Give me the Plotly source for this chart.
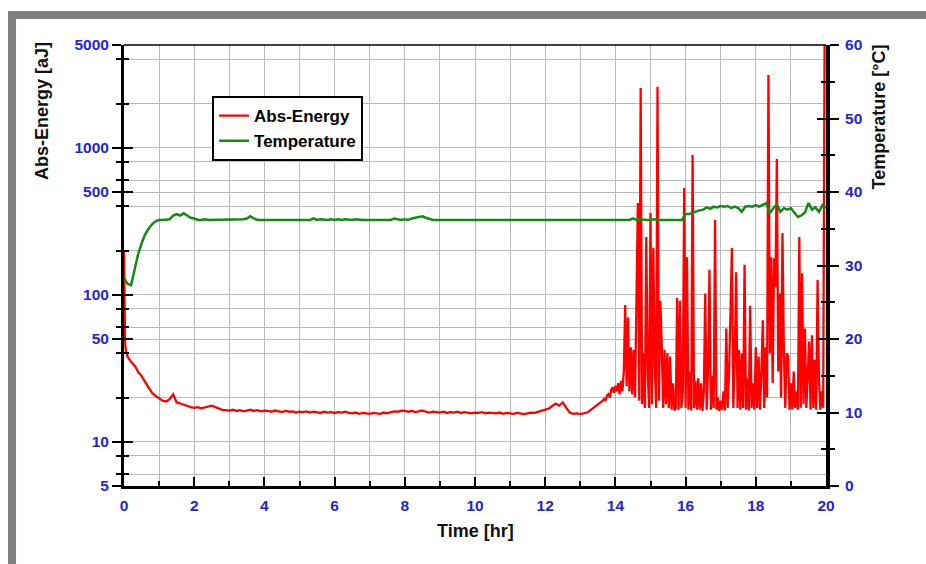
import numpy as np
import plotly.graph_objects as go

# ---------------- data ----------------
# Abs-Energy [aJ]: very first samples (hr)
energy_start_time = [0.0, 0.01, 0.02, 0.03, 0.05]
energy_start_aJ = [200, 110, 75, 48, 42]

# Abs-Energy, quiet period, sampled every 0.1 hr starting at 0.1 hr
energy_quiet_start, energy_quiet_step = 0.1, 0.1
energy_quiet_aJ = [
    38, 35, 33, 30, 28, 25.5, 23.5, 21.5, 20.5, 19.8,
    19.0, 18.8, 19.5, 21.0, 18.5, 18.2, 17.8, 17.6, 17.2, 17.0,
    17.2, 16.9, 17.1, 17.3, 17.6, 17.2, 16.8, 16.5, 16.4, 16.3,
    16.5, 16.2, 16.4, 16.1, 16.3, 16.5, 16.2, 16.4, 16.1, 16.3,
    16.2, 16.0, 16.3, 16.1, 15.9, 16.2, 16.0, 16.1, 15.8, 16.0,
    15.9, 16.1, 15.8, 16.0, 15.9, 15.7, 16.0, 15.8, 15.9, 15.7,
    15.9, 15.8, 16.0, 15.7, 15.6, 15.8, 15.5, 15.7, 15.6, 15.5,
    15.7, 15.6, 15.5, 15.8, 15.6, 15.9, 16.1, 16.0, 16.3, 16.2,
    16.0, 16.2, 15.9, 16.1, 16.3, 16.0, 15.8, 16.0, 15.9, 15.8,
    16.0, 15.7, 15.9, 15.8, 16.0, 15.7, 15.9, 15.8, 15.6, 15.8,
    15.7, 15.9, 15.6, 15.8, 15.7, 15.6, 15.8, 15.5, 15.7, 15.6,
    15.5, 15.7, 15.6, 15.4, 15.6, 15.8, 15.7, 16.0, 16.3, 16.6,
    16.8, 17.5, 18.2, 17.6, 18.5, 17.0, 15.8, 15.5, 15.6, 15.4,
    15.6, 15.8, 16.5, 17.2, 17.8,
]

# Abs-Energy, burst period, sampled every 0.04 hr starting at 13.6 hr
energy_burst_start, energy_burst_step = 13.6, 0.04
energy_burst_aJ = [
    18.5, 19.0, 19.5, 19.2, 20.5, 21.0, 20.0, 22.5, 23.5, 21.5,
    24.0, 22.0, 25.0, 21.0, 26.0, 22.0, 30.0, 85, 24, 70,
    22, 44, 21, 42, 20, 113, 421, 19, 2550, 18,
    40, 17, 247, 30, 17, 360, 18, 208, 35, 17,
    2600, 19, 91, 46, 17, 42, 18, 40, 17, 38,
    16.5, 25, 16.3, 17, 95, 16.5, 91, 17, 22, 532,
    17, 180, 16.5, 30, 16.3, 893, 17, 26, 16.5, 27,
    16.5, 25, 16.2, 22, 102, 16.5, 30, 148, 16.5, 28,
    17, 323, 16.5, 20, 16.2, 19, 16.5, 22, 16.3, 59,
    17, 30, 88, 208, 17, 35, 142, 17, 42, 16.5,
    40, 17, 160, 16.5, 27, 16.3, 84, 17, 25, 16.5,
    44, 17, 38, 16.5, 30, 67, 17, 44, 20, 3125,
    40, 180, 25, 177, 113, 838, 30, 102, 20, 263,
    40, 17, 40, 38, 16.5, 25, 16.5, 30, 17, 22,
    16.5, 247, 17, 140, 18, 59, 17, 30, 48, 16.5,
    53, 17, 36, 16.5, 126, 26, 16.5, 22, 17, 5500,
    8000,
]

# Temperature [°C], sampled every 0.1 hr starting at 0 hr
temp_start, temp_step = 0.0, 0.1
temperature_C = [
    28.3, 27.5, 27.3, 29.5, 31.5, 33.0, 34.2, 35.0, 35.6, 36.0,
    36.2, 36.2, 36.2, 36.3, 36.8, 37.0, 36.8, 37.1, 36.8, 36.5,
    36.4, 36.2, 36.2, 36.3, 36.2, 36.2, 36.3, 36.2, 36.2, 36.2,
    36.2, 36.3, 36.2, 36.2, 36.3, 36.4, 36.7, 36.4, 36.2, 36.2,
    36.2, 36.3, 36.2, 36.2, 36.3, 36.2, 36.2, 36.3, 36.2, 36.3,
    36.2, 36.3, 36.2, 36.2, 36.4, 36.2, 36.3, 36.2, 36.2, 36.3,
    36.2, 36.3, 36.2, 36.3, 36.2, 36.2, 36.3, 36.2, 36.2, 36.2,
    36.2, 36.3, 36.2, 36.2, 36.3, 36.2, 36.2, 36.4, 36.3, 36.2,
    36.3, 36.2, 36.4, 36.5, 36.6, 36.7, 36.5, 36.3, 36.2, 36.2,
    36.2, 36.3, 36.2, 36.2, 36.3, 36.2, 36.2, 36.3, 36.2, 36.2,
    36.3, 36.2, 36.2, 36.2, 36.3, 36.2, 36.2, 36.2, 36.3, 36.2,
    36.2, 36.2, 36.3, 36.2, 36.2, 36.2, 36.3, 36.2, 36.2, 36.2,
    36.2, 36.3, 36.2, 36.2, 36.2, 36.3, 36.2, 36.2, 36.2, 36.2,
    36.2, 36.2, 36.3, 36.2, 36.2, 36.2, 36.2, 36.3, 36.2, 36.2,
    36.2, 36.2, 36.3, 36.2, 36.2, 36.4, 36.2, 36.3, 36.2, 36.2,
    36.2, 36.3, 36.2, 36.2, 36.2, 36.2, 36.2, 36.2, 36.2, 36.2,
    37.0, 37.0, 37.2, 37.4, 37.5, 37.6, 37.9, 37.7, 38.0, 37.9,
    38.1, 38.0, 38.1, 37.8, 38.0, 37.8, 37.3, 38.0, 38.1, 38.0,
    38.2, 38.0, 38.2, 38.5, 37.1, 37.8, 38.3, 37.3, 37.8, 37.6,
    37.8, 37.2, 36.6, 36.8, 37.2, 38.5, 37.6, 37.9, 37.3, 38.2,
    37.8,
]

# axis ticks
time_major_ticks = [0, 2, 4, 6, 8, 10, 12, 14, 16, 18, 20]
time_minor_ticks = [1, 3, 5, 7, 9, 11, 13, 15, 17, 19]
energy_major_ticks = [5, 10, 50, 100, 500, 1000, 5000]
energy_minor_ticks = [6, 8, 20, 40, 60, 80, 200, 400, 600, 800, 2000, 4000]
temp_major_ticks = [0, 10, 20, 30, 40, 50, 60]
temp_minor_ticks = [5, 15, 25, 35, 45, 55]

# ---------------- build series ----------------
quiet_time = np.round(energy_quiet_start + energy_quiet_step * np.arange(len(energy_quiet_aJ)), 3)
burst_time = np.round(energy_burst_start + energy_burst_step * np.arange(len(energy_burst_aJ)), 3)
energy_time = list(energy_start_time) + list(quiet_time) + list(burst_time)
energy_vals = list(energy_start_aJ) + list(energy_quiet_aJ) + list(energy_burst_aJ)
temp_time = np.round(temp_start + temp_step * np.arange(len(temperature_C)), 3)

FONT = "Liberation Sans, Arial, sans-serif"
BLUE = "#2323d8"
GRID = "#b9b9b9"
RED = "#ff0000"
GREEN = "#148a14"

fig = go.Figure()
fig.add_trace(go.Scatter(x=energy_time, y=energy_vals, mode="lines", name="Abs-Energy",
                         line=dict(color=RED, width=2.3), yaxis="y"))
fig.add_trace(go.Scatter(x=list(temp_time), y=temperature_C, mode="lines", name="Temperature",
                         line=dict(color=GREEN, width=2.5), yaxis="y2"))
# helper traces so the inner tick axes are drawn
fig.add_trace(go.Scatter(x=[None], y=[None], yaxis="y3", showlegend=False, hoverinfo="skip"))
fig.add_trace(go.Scatter(x=[None], y=[None], yaxis="y4", showlegend=False, hoverinfo="skip"))

tickfont = dict(family=FONT, size=15.5, color=BLUE, weight="bold")
logrange = [np.log10(5), np.log10(5000)]

fig.update_layout(
    width=926, height=564,
    margin=dict(l=124, r=100, t=45, b=78),
    paper_bgcolor="white", plot_bgcolor="white",
    font=dict(family=FONT, color="black"),
    showlegend=True,
    legend=dict(x=0.1254, y=0.884, xanchor="left", yanchor="top",
                bgcolor="white", bordercolor="black", borderwidth=2,
                font=dict(family=FONT, size=17, color="black", weight="bold"),
                itemwidth=30, tracegroupgap=0,
                entrywidth=160, entrywidthmode="pixels"),
    xaxis=dict(range=[0, 20], tickmode="array", tickvals=time_major_ticks,
               ticks="inside", ticklen=9, tickwidth=2, tickcolor="black",
               showline=True, linewidth=3, linecolor="black",
               showgrid=True, gridcolor=GRID, gridwidth=1, zeroline=False,
               tickfont=tickfont, ticklabelstandoff=3,
               minor=dict(tickmode="array", tickvals=time_minor_ticks, ticks="inside",
                          ticklen=5, tickwidth=2, tickcolor="black",
                          showgrid=True, gridcolor=GRID, gridwidth=1)),
    yaxis=dict(type="log", range=logrange, tickmode="array", tickvals=energy_major_ticks,
               ticktext=[str(v) for v in energy_major_ticks],
               ticks="outside", ticklen=9, tickwidth=2, tickcolor="black",
               showline=True, linewidth=3, linecolor="black",
               showgrid=True, gridcolor=GRID, gridwidth=1, zeroline=False,
               tickfont=tickfont,
               minor=dict(tickmode="array", tickvals=energy_minor_ticks, ticks="outside",
                          ticklen=5, tickwidth=2, tickcolor="black",
                          showgrid=True, gridcolor=GRID, gridwidth=1)),
    yaxis2=dict(overlaying="y", side="right", anchor="x", range=[0, 60],
                tickmode="array", tickvals=temp_major_ticks,
                ticks="outside", ticklen=9, tickwidth=2, tickcolor="black",
                showline=True, linewidth=4, linecolor="black",
                showgrid=False, zeroline=False, tickfont=tickfont, ticklabelstandoff=3,
                minor=dict(tickmode="array", tickvals=temp_minor_ticks, ticks="outside",
                           ticklen=5, tickwidth=2, tickcolor="black")),
    yaxis3=dict(overlaying="y", side="left", anchor="x", type="log", range=logrange,
                tickmode="array", tickvals=energy_major_ticks, showticklabels=False,
                ticks="inside", ticklen=9, tickwidth=2, tickcolor="black",
                showline=False, showgrid=False, zeroline=False,
                minor=dict(tickmode="array", tickvals=energy_minor_ticks, ticks="inside",
                           ticklen=5, tickwidth=2, tickcolor="black")),
    yaxis4=dict(overlaying="y", side="right", anchor="x", range=[0, 60],
                tickmode="array", tickvals=temp_major_ticks, showticklabels=False,
                ticks="inside", ticklen=9, tickwidth=2, tickcolor="black",
                showline=False, showgrid=False, zeroline=False,
                minor=dict(tickmode="array", tickvals=temp_minor_ticks, ticks="inside",
                           ticklen=5, tickwidth=2, tickcolor="black")),
)

# titles
fig.add_annotation(text="Abs-Energy [aJ]", xref="paper", yref="paper", x=-0.1168, y=1.0113,
                   xanchor="center", yanchor="top", textangle=-90, showarrow=False,
                   font=dict(family=FONT, size=18, color="#111111", weight="bold"))
fig.add_annotation(text="Temperature [°C]", xref="paper", yref="paper", x=1.0755, y=1.0045,
                   xanchor="center", yanchor="top", textangle=-90, showarrow=False,
                   font=dict(family=FONT, size=18, color="#111111", weight="bold"))
fig.add_annotation(text="Time [hr]", xref="paper", yref="paper", x=0.5014, y=-0.102,
                   xanchor="center", yanchor="middle", showarrow=False,
                   font=dict(family=FONT, size=18, color="#111111", weight="bold"))

# plot top border and grey window frame
fig.add_shape(type="line", xref="paper", yref="paper", x0=0, x1=1, y0=1, y1=1,
              line=dict(color="black", width=1.5))
fig.add_shape(type="rect", xref="paper", yref="paper", x0=-0.1652, x1=1.15, y0=1.059, y1=1.0771,
              line=dict(width=0), fillcolor="#808080", layer="above")
fig.add_shape(type="rect", xref="paper", yref="paper", x0=-0.1652, x1=-0.1538, y0=-0.2, y1=1.0771,
              line=dict(width=0), fillcolor="#808080", layer="above")

fig.write_html("out.html")
